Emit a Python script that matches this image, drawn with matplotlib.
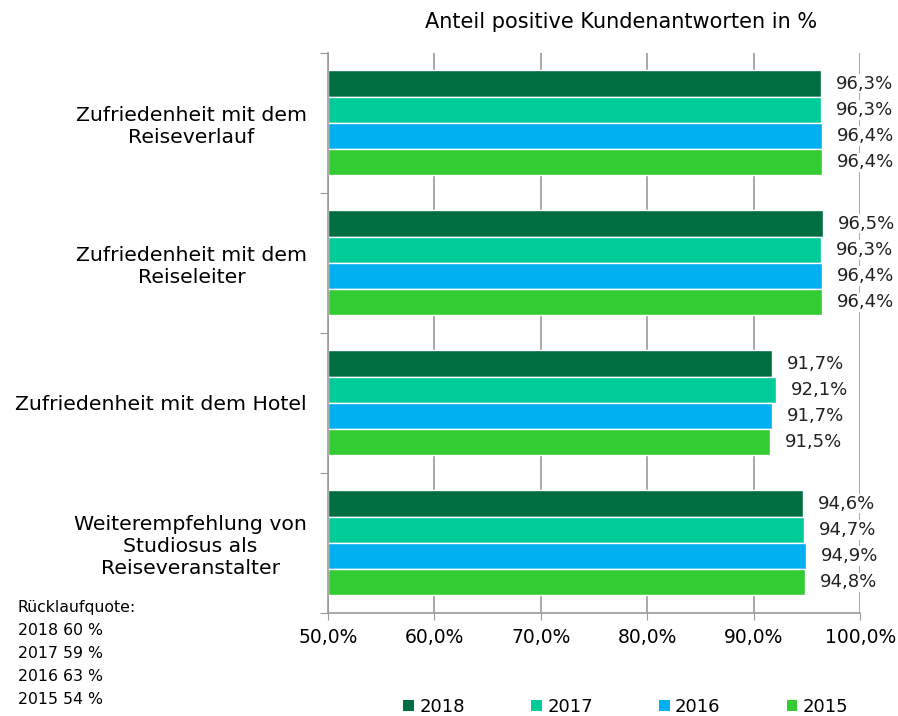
import numpy as np
import matplotlib.pyplot as plt
from matplotlib.patches import Patch

categories = ["Zufriedenheit mit dem\nReiseverlauf",
              "Zufriedenheit mit dem\nReiseleiter",
              "Zufriedenheit mit dem Hotel",
              "Weiterempfehlung von\nStudiosus als\nReiseveranstalter"]
years = ["2018", "2017", "2016", "2015"]
values = {
    "2018": [96.3, 96.5, 91.7, 94.6],
    "2017": [96.3, 96.3, 92.1, 94.7],
    "2016": [96.4, 96.4, 91.7, 94.9],
    "2015": [96.4, 96.4, 91.5, 94.8],
}
colors = ["#006E40", "#00CC99", "#00B0F0", "#33CC33"]
ruecklauf = ["Rücklaufquote:", "2018 60 %", "2017 59 %", "2016 63 %", "2015 54 %"]
xticks = [50, 60, 70, 80, 90, 100]

plt.rcParams['font.family'] = ['DejaVu Sans']
fig = plt.figure(figsize=(8.98, 7.16), dpi=100)
ax = fig.add_axes([0.365, 0.144, 0.593, 0.782])

h = 0.1875
n = len(categories)
centers = np.arange(n)
for i, yr in enumerate(years):
    ypos = centers + (i - 1.5) * h
    ax.barh(ypos, np.array(values[yr]) - 50, left=50, height=h,
            color=colors[i], edgecolor="white", linewidth=1, zorder=2)
    for y, v in zip(ypos, values[yr]):
        ax.text(v + 1.4, y, f"{v:.1f}%".replace(".", ","), va="center",
                ha="left", fontsize=13, color="#222222",
                bbox=dict(facecolor="white", edgecolor="none", pad=0.5), zorder=3)

ax.set_xlim(50, 100)
ax.set_ylim(n - 0.5, -0.5)
ax.set_xticks(xticks)
ax.set_xticklabels([f"{t:.1f}%".replace(".", ",") for t in xticks], fontsize=13.5)
ax.tick_params(axis="x", length=5, color="#999999", pad=6)
ax.set_yticks(np.arange(n + 1) - 0.5)
ax.set_yticklabels([])
ax.set_yticks(centers, minor=True)
ax.set_yticklabels(categories, minor=True, fontsize=14.7, ha="right",
                   multialignment="center")
ax.tick_params(axis="y", which="minor", length=0, pad=15)
ax.tick_params(axis="y", which="major", length=6, color="#999999")
ax.grid(axis="x", color="#999999", linewidth=1.2, zorder=0)
ax.set_axisbelow(True)
for s in ["top", "right"]:
    ax.spines[s].set_visible(False)
for s in ["left", "bottom"]:
    ax.spines[s].set_color("#999999")
    ax.spines[s].set_linewidth(1.2)

fig.text(0.692, 0.969, "Anteil positive Kundenantworten in %", ha="center",
         va="center", fontsize=15)

for k, line in enumerate(ruecklauf):
    fig.text(0.02, 0.151 - k * 0.032, line, ha="left", va="center", fontsize=11.3)

handles = [Patch(facecolor=c, edgecolor="none") for c in colors]
fig.legend(handles, years, loc="center", bbox_to_anchor=(0.697, 0.0126),
           ncol=4, frameon=False, fontsize=13, handlelength=0.6,
           handleheight=0.6, columnspacing=3.65, handletextpad=0.3,
           borderaxespad=0, borderpad=0)

fig.savefig("out.png", dpi=100)
